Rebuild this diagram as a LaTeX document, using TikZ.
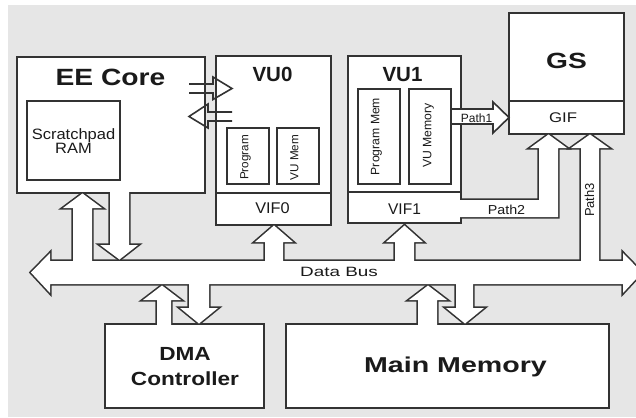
\documentclass[tikz,border=0pt]{standalone}
\usepackage{fontspec}
\setmainfont{Liberation Sans}
\usepackage{graphicx}
\definecolor{bg}{HTML}{E6E6E6}
\definecolor{ln}{HTML}{333333}
\definecolor{tx}{HTML}{1A1A1A}
\newcommand{\bt}[3]{\scalebox{#2}[1]{\fontsize{#1pt}{#1pt}\selectfont\bfseries #3}}
\newcommand{\rt}[3]{\scalebox{#2}[1]{\fontsize{#1pt}{#1pt}\selectfont #3}}
\newcommand{\arrowshapes}[1]{%
  % data bus
  \path[#1] (50,261) -- (623,261) -- (623,253) -- (642,272.5) -- (623,293) -- (623,284) -- (50,284) -- (50,293) -- (31,272.5) -- (50,253) -- cycle;
  % EE core <-> bus
  \path[#1] (73,268) -- (73,208) -- (63,208) -- (82.5,193.5) -- (102,208) -- (92,208) -- (92,268) -- cycle;
  \path[#1] (110,185) -- (110,245) -- (100,245) -- (119.5,259.5) -- (138,245) -- (129,245) -- (129,185) -- cycle;
  % VIF0, VIF1
  \path[#1] (265,268) -- (265,242) -- (255,242) -- (274,225.5) -- (293,242) -- (283,242) -- (283,268) -- cycle;
  \path[#1] (395,268) -- (395,242) -- (386,242) -- (404.5,225.5) -- (423,242) -- (414,242) -- (414,268) -- cycle;
  % DMA
  \path[#1] (157,330) -- (157,300) -- (143,300) -- (162,285.5) -- (181,300) -- (171,300) -- (171,330) -- cycle;
  \path[#1] (189,278) -- (189,308) -- (180,308) -- (199,323.5) -- (218,308) -- (209,308) -- (209,278) -- cycle;
  % Main memory
  \path[#1] (418,330) -- (418,300) -- (409,300) -- (428,285.5) -- (447,300) -- (437,300) -- (437,330) -- cycle;
  \path[#1] (456,278) -- (456,308) -- (446,308) -- (465,323.5) -- (484,308) -- (473,308) -- (473,278) -- cycle;
  % Path3
  \path[#1] (581,268) -- (581,148) -- (571,148) -- (590,134.5) -- (609,148) -- (599,148) -- (599,268) -- cycle;
  % Path2
  \path[#1] (455,200) -- (539,200) -- (539,148) -- (530,148) -- (548.5,134.5) -- (567,148) -- (558,148) -- (558,217) -- (455,217) -- cycle;
}
\begin{document}
\begin{tikzpicture}[x=1pt,y=-1pt,
  boxgeo/.style={rectangle,inner sep=0pt,outer sep=0pt},
  outl/.style={draw=ln,line width=3.2pt,line join=miter},
  inbox/.style={fill=white,draw=ln,line width=1.6pt},
  lbl/.style={inner sep=0pt,anchor=base,text=tx},
  rlbl/.style={inner sep=0pt,rotate=90,text=tx},
  blk/.style={line width=1.6pt,draw=ln,line join=miter}]
\useasboundingbox (0,0) rectangle (636,417);
\clip (0,0) rectangle (636,417);
\fill[white] (0,0) rectangle (636,417);
\fill[bg] (8,5) rectangle (636,417);
% main boxes (geometry)
\path node[boxgeo,minimum width=186pt,minimum height=134pt] (ee) at (111,125) {};
\path node[boxgeo,minimum width=113pt,minimum height=167pt] (vu0) at (273.5,140.5) {};
\path node[boxgeo,minimum width=111pt,minimum height=165pt] (vu1) at (404.5,139.5) {};
\path node[boxgeo,minimum width=113pt,minimum height=119pt] (gs) at (566.5,73.5) {};
\path node[boxgeo,minimum width=157pt,minimum height=82pt] (dma) at (184.5,366) {};
\path node[boxgeo,minimum width=321pt,minimum height=82pt] (mm) at (447.5,366) {};
% union outline pass
\foreach \n in {ee,vu0,vu1,gs,dma,mm}
  \path[outl] (\n.north west) rectangle (\n.south east);
\arrowshapes{outl}
% union fill pass
\foreach \n in {ee,vu0,vu1,gs,dma,mm}
  \fill[white] (\n.north west) rectangle (\n.south east);
\arrowshapes{fill=white}
% separators
\draw[blk] (vu0.west |- 0,193) -- (vu0.east |- 0,193);
\draw[blk] (vu1.west |- 0,192) -- (vu1.east |- 0,192);
\draw[blk] (gs.west |- 0,101) -- (gs.east |- 0,101);
% inner boxes
\draw[inbox] (27,101) rectangle (120,180);
\draw[inbox] (227,128) rectangle (269,184);
\draw[inbox] (277,128) rectangle (319,184);
\draw[inbox] (358,89) rectangle (400,184);
\draw[inbox] (409,89) rectangle (451,184);
% EE <-> VU0 arrows (outline only)
\draw[blk] (189,84) -- (213,84) -- (213,77) -- (232,88.5) -- (213,99.5) -- (213,93) -- (189,93);
\draw[blk] (232,112) -- (208,112) -- (208,104) -- (189,116.5) -- (208,128) -- (208,121) -- (232,121);
% Path1 arrow
\fill[white] (452,109) -- (493,109) -- (493,102) -- (509,117.5) -- (493,133) -- (493,124) -- (452,124) -- cycle;
\draw[blk] (451,109) -- (493,109) -- (493,102) -- (509,117.5) -- (493,133) -- (493,124) -- (451,124);
% labels
\node[lbl] (tee) at (110.5,85) {\bt{23.5}{1.2}{EE Core}};
\node[lbl] (tvu0) at (272.5,82) {\bt{20.5}{1.0}{VU0}};
\node[lbl] (tvu1) at (402.5,82) {\bt{20.5}{1.0}{VU1}};
\node[lbl] (tgs) at (566.5,69) {\bt{22}{1.28}{GS}};
\node[lbl] (tgif) at (563,122) {\rt{14}{1.2}{GIF}};
\node[lbl] (tp1) at (476.5,122) {\rt{12}{1.0}{Path1}};
\node[lbl] (tsp1) at (73.5,139) {\rt{15}{1.1}{Scratchpad}};
\node[lbl] (tsp2) at (73.5,153.5) {\rt{15}{1.1}{RAM}};
\node[lbl] (tvif0) at (272.5,213.5) {\rt{15.5}{1.05}{VIF0}};
\node[lbl] (tvif1) at (404.5,214.5) {\rt{15.5}{1.0}{VIF1}};
\node[lbl] (tp2) at (506.5,214) {\rt{13}{1.1}{Path2}};
\node[rlbl] (tp3) at (589.5,200) {\rt{13}{1.0}{Path3}};
\node[lbl] (tbus) at (339,276.5) {\rt{13.5}{1.4}{Data Bus}};
\node[lbl] (tdma1) at (185,360) {\bt{19}{1.19}{DMA}};
\node[lbl] (tdma2) at (185,385) {\bt{19}{1.19}{Controller}};
\node[lbl] (tmm) at (455.5,372) {\bt{21.5}{1.33}{Main Memory}};
\node[rlbl] (tprog0) at (245.5,157.5) {\rt{11.7}{1.0}{Program}};
\node[rlbl] (tvm0) at (294.5,157.5) {\rt{11.7}{1.0}{VU Mem}};
\node[rlbl] (tprog1) at (376.5,136.5) {\rt{12.2}{1.0}{Program Mem}};
\node[rlbl] (tvm1) at (428.5,135.5) {\rt{12.2}{1.0}{VU Memory}};
\end{tikzpicture}
\end{document}
